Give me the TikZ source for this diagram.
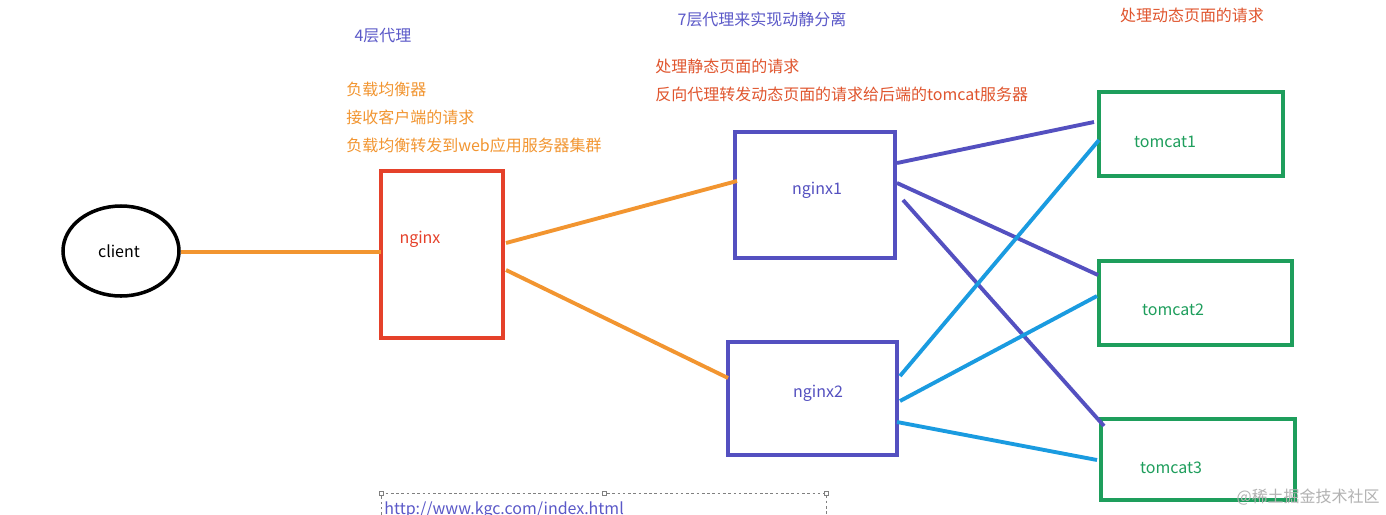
\documentclass[tikz,border=0pt]{standalone}
\usepackage{fontspec}
\setmainfont{Noto Sans CJK SC}
\begin{document}
\begin{tikzpicture}[x=0.02cm,y=-0.02cm,
  txt/.style={font=\fontsize{9.1}{10}\selectfont,inner sep=0pt},
  box/.style={line width=2.2pt},
  ln/.style={line width=2.2pt}]
\definecolor{orng}{HTML}{F29530}
\definecolor{redd}{HTML}{E5412A}
\definecolor{purp}{HTML}{5450C0}
\definecolor{grn}{HTML}{1E9E5C}
\definecolor{blu}{HTML}{1A9BE0}
\definecolor{txtb}{HTML}{5A58C8}
\definecolor{txtr}{HTML}{E0552E}
\useasboundingbox (0,0) rectangle (1386,514);
\fill[white] (0,0) rectangle (1386,514);
% boxes
\draw[line width=2pt] (121,251) ellipse [x radius=58, y radius=45];
\draw[box,redd] (381,171) rectangle (503,338);
\draw[box,purp] (735,132) rectangle (895,258);
\draw[box,purp] (728,342) rectangle (897,455);
\draw[box,grn] (1099,92) rectangle (1283,176);
\draw[box,grn] (1099,261) rectangle (1292,345);
\draw[box,grn] (1101,419) rectangle (1295,500);
% labels
\node[txt] (client) at (119,251) {client};
\node[txt,text=redd] (nginx) at (420,239) {nginx};
\node[txt,text=purp] (nginx1) at (817,190) {nginx1};
\node[txt,text=purp] (nginx2) at (818,393) {nginx2};
\node[txt,text=grn] (t1) at (1165,142) {tomcat1};
\node[txt,text=grn] (t2) at (1173,310) {tomcat2};
\node[txt,text=grn] (t3) at (1171,468) {tomcat3};
% lines
\draw[ln,orng] (181,252) -- (381,252);
\draw[ln,orng] (506,243) -- (737,181);
\draw[ln,orng] (506,270) -- (728,378);
\draw[ln,purp] (897,163) -- (1094,122);
\draw[ln,purp] (897,183) -- (1098,275);
\draw[ln,purp] (903,200) -- (1104,426);
\draw[ln,blu] (1099,140) -- (900,376);
\draw[ln,blu] (900,401) -- (1097,296);
\draw[ln,blu] (897,422) -- (1097,460);
% texts
\node[txt,text=txtb] (l4) at (383,36) {4层代理};
\node[txt,text=orng,anchor=west] (a1) at (346,89) {负载均衡器};
\node[txt,text=orng,anchor=west] (a2) at (346,117) {接收客户端的请求};
\node[txt,text=orng,anchor=west] (a3) at (346,145) {负载均衡转发到web应用服务器集群};
\node[txt,text=txtb] (l7) at (762,19) {7层代理来实现动静分离};
\node[txt,text=txtr,anchor=west] (b1) at (655,66) {处理静态页面的请求};
\node[txt,text=txtr,anchor=west] (b2) at (655,94) {反向代理转发动态页面的请求给后端的tomcat服务器};
\node[txt,text=txtr] (c1) at (1192,15) {处理动态页面的请求};
% dotted selection
\draw[gray,dashed,dash pattern=on 1.5pt off 1.5pt,line width=0.4pt] (381,520) -- (381,493) -- (826,493) -- (826,520);
\foreach \x in {381,604,826} \draw[gray,fill=white,line width=0.4pt] (\x-2,491) rectangle (\x+2,495);
\node[txt,text=txtb,anchor=west] (url) at (384,510) {http://www.kgc.com/index.html};
\node[txt,text=gray!60,anchor=east] (wm) at (1380,497) {@稀土掘金技术社区};
\end{tikzpicture}
\end{document}
